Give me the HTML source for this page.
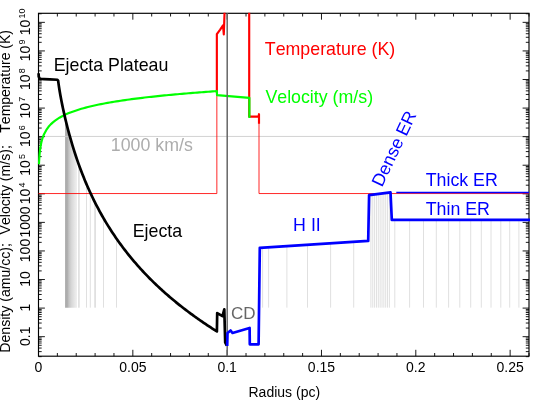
<!DOCTYPE html>
<html><head><meta charset="utf-8"><title>Radial profile</title>
<style>
html,body{margin:0;padding:0;background:#fff;}
body{width:534px;height:401px;overflow:hidden;}
svg{display:block;font-family:"Liberation Sans",sans-serif;font-kerning:none;}
</style></head><body>
<svg width="534" height="401" viewBox="0 0 534 401">
<rect x="0" y="0" width="534" height="401" fill="#fff"/>
<defs>
<linearGradient id="gz" x1="0" y1="0" x2="1" y2="0">
<stop offset="0" stop-color="#a8a8a8"/><stop offset="0.2" stop-color="#b0b0b0"/><stop offset="0.32" stop-color="#c4c4c4"/><stop offset="0.55" stop-color="#d8d8d8"/><stop offset="0.8" stop-color="#e6e6e6"/><stop offset="1" stop-color="#f0f0f0"/>
</linearGradient>
<clipPath id="fr"><rect x="36" y="12.7" width="495" height="345"/></clipPath>
</defs>
<path d="M65.1,307.65 L65.1,117.96 L65.6,120.03 L66.09,122.06 L66.59,124.06 L67.08,126.02 L67.58,127.95 L68.07,129.85 L68.57,131.72 L69.07,133.55 L69.56,135.35 L70.06,137.13 L70.55,138.88 L71.05,140.6 L71.55,142.3 L72.04,143.97 L72.54,145.61 L73.03,147.23 L73.53,148.83 L74.03,150.41 L74.52,151.96 L75.02,153.5 L75.51,155.01 L76.01,156.5 L76.5,157.98 L77,159.43 L77,307.65 Z" fill="url(#gz)"/>
<path d="M78.6,307.65V164 M79.2,307.65V165.66 M86.5,307.65V184.17 M90.3,307.65V192.71 M94.7,307.65V201.86 M95.5,307.65V203.44 M103.5,307.65V218.17 M116.5,307.65V238.62 M262.6,307.65V247.62 M268.6,307.65V247.24 M286.9,307.65V246.08 M307.5,307.65V244.76 M330.6,307.65V243.29 M353.7,307.65V241.82 M370.9,307.65V194.82 M372.75,307.65V194.58 M374.6,307.65V194.34 M376.45,307.65V194.11 M378.3,307.65V193.87 M380.15,307.65V193.63 M382,307.65V193.39 M383.85,307.65V193.15 M385.7,307.65V192.92 M387.55,307.65V192.68 M389.4,307.65V192.44 M394.8,307.65V220 M409.6,307.65V220 M423.5,307.65V220 M436.3,307.65V220 M448.6,307.65V220 M459.8,307.65V220 M470.7,307.65V220 M481.3,307.65V220 M491,307.65V220 M500.8,307.65V220 M509.7,307.65V220 M518.9,307.65V220" stroke="#e0e0e0" stroke-width="1" fill="none"/>
<path d="M38.5,136.45H529.0" stroke="#cdcdcd" stroke-width="0.9" fill="none"/>
<path d="M38.5,356.2v-6.4M38.5,13.3v6.4 M57.37,356.2v-3.2M57.37,13.3v3.2 M76.23,356.2v-3.2M76.23,13.3v3.2 M95.1,356.2v-3.2M95.1,13.3v3.2 M113.96,356.2v-3.2M113.96,13.3v3.2 M132.83,356.2v-6.4M132.83,13.3v6.4 M151.69,356.2v-3.2M151.69,13.3v3.2 M170.56,356.2v-3.2M170.56,13.3v3.2 M189.42,356.2v-3.2M189.42,13.3v3.2 M208.29,356.2v-3.2M208.29,13.3v3.2 M227.15,356.2v-6.4M227.15,13.3v6.4 M246.02,356.2v-3.2M246.02,13.3v3.2 M264.88,356.2v-3.2M264.88,13.3v3.2 M283.75,356.2v-3.2M283.75,13.3v3.2 M302.62,356.2v-3.2M302.62,13.3v3.2 M321.48,356.2v-6.4M321.48,13.3v6.4 M340.35,356.2v-3.2M340.35,13.3v3.2 M359.21,356.2v-3.2M359.21,13.3v3.2 M378.08,356.2v-3.2M378.08,13.3v3.2 M396.94,356.2v-3.2M396.94,13.3v3.2 M415.81,356.2v-6.4M415.81,13.3v6.4 M434.67,356.2v-3.2M434.67,13.3v3.2 M453.54,356.2v-3.2M453.54,13.3v3.2 M472.4,356.2v-3.2M472.4,13.3v3.2 M491.27,356.2v-3.2M491.27,13.3v3.2 M510.13,356.2v-6.4M510.13,13.3v6.4 M529,356.2v-3.2M529,13.3v3.2 M38.5,356.65h3.2M529.0,356.65h-3.2 M38.5,351.62h3.2M529.0,351.62h-3.2 M38.5,348.05h3.2M529.0,348.05h-3.2 M38.5,345.28h3.2M529.0,345.28h-3.2 M38.5,343.02h3.2M529.0,343.02h-3.2 M38.5,341.1h3.2M529.0,341.1h-3.2 M38.5,339.45h3.2M529.0,339.45h-3.2 M38.5,337.98h3.2M529.0,337.98h-3.2 M38.5,336.68h6.4M529.0,336.68h-6.4 M38.5,328.07h3.2M529.0,328.07h-3.2 M38.5,323.04h3.2M529.0,323.04h-3.2 M38.5,319.47h3.2M529.0,319.47h-3.2 M38.5,316.7h3.2M529.0,316.7h-3.2 M38.5,314.44h3.2M529.0,314.44h-3.2 M38.5,312.53h3.2M529.0,312.53h-3.2 M38.5,310.87h3.2M529.0,310.87h-3.2 M38.5,309.41h3.2M529.0,309.41h-3.2 M38.5,308.1h6.4M529.0,308.1h-6.4 M38.5,299.5h3.2M529.0,299.5h-3.2 M38.5,294.47h3.2M529.0,294.47h-3.2 M38.5,290.9h3.2M529.0,290.9h-3.2 M38.5,288.13h3.2M529.0,288.13h-3.2 M38.5,285.87h3.2M529.0,285.87h-3.2 M38.5,283.95h3.2M529.0,283.95h-3.2 M38.5,282.3h3.2M529.0,282.3h-3.2 M38.5,280.83h3.2M529.0,280.83h-3.2 M38.5,279.53h6.4M529.0,279.53h-6.4 M38.5,270.92h3.2M529.0,270.92h-3.2 M38.5,265.89h3.2M529.0,265.89h-3.2 M38.5,262.32h3.2M529.0,262.32h-3.2 M38.5,259.55h3.2M529.0,259.55h-3.2 M38.5,257.29h3.2M529.0,257.29h-3.2 M38.5,255.38h3.2M529.0,255.38h-3.2 M38.5,253.72h3.2M529.0,253.72h-3.2 M38.5,252.26h3.2M529.0,252.26h-3.2 M38.5,250.95h6.4M529.0,250.95h-6.4 M38.5,242.35h3.2M529.0,242.35h-3.2 M38.5,237.32h3.2M529.0,237.32h-3.2 M38.5,233.75h3.2M529.0,233.75h-3.2 M38.5,230.98h3.2M529.0,230.98h-3.2 M38.5,228.72h3.2M529.0,228.72h-3.2 M38.5,226.8h3.2M529.0,226.8h-3.2 M38.5,225.15h3.2M529.0,225.15h-3.2 M38.5,223.68h3.2M529.0,223.68h-3.2 M38.5,222.38h6.4M529.0,222.38h-6.4 M38.5,213.77h3.2M529.0,213.77h-3.2 M38.5,208.74h3.2M529.0,208.74h-3.2 M38.5,205.17h3.2M529.0,205.17h-3.2 M38.5,202.4h3.2M529.0,202.4h-3.2 M38.5,200.14h3.2M529.0,200.14h-3.2 M38.5,198.23h3.2M529.0,198.23h-3.2 M38.5,196.57h3.2M529.0,196.57h-3.2 M38.5,195.11h3.2M529.0,195.11h-3.2 M38.5,193.8h6.4M529.0,193.8h-6.4 M38.5,185.2h3.2M529.0,185.2h-3.2 M38.5,180.17h3.2M529.0,180.17h-3.2 M38.5,176.6h3.2M529.0,176.6h-3.2 M38.5,173.83h3.2M529.0,173.83h-3.2 M38.5,171.57h3.2M529.0,171.57h-3.2 M38.5,169.65h3.2M529.0,169.65h-3.2 M38.5,168h3.2M529.0,168h-3.2 M38.5,166.53h3.2M529.0,166.53h-3.2 M38.5,165.23h6.4M529.0,165.23h-6.4 M38.5,156.62h3.2M529.0,156.62h-3.2 M38.5,151.59h3.2M529.0,151.59h-3.2 M38.5,148.02h3.2M529.0,148.02h-3.2 M38.5,145.25h3.2M529.0,145.25h-3.2 M38.5,142.99h3.2M529.0,142.99h-3.2 M38.5,141.08h3.2M529.0,141.08h-3.2 M38.5,139.42h3.2M529.0,139.42h-3.2 M38.5,137.96h3.2M529.0,137.96h-3.2 M38.5,136.65h6.4M529.0,136.65h-6.4 M38.5,128.05h3.2M529.0,128.05h-3.2 M38.5,123.02h3.2M529.0,123.02h-3.2 M38.5,119.45h3.2M529.0,119.45h-3.2 M38.5,116.68h3.2M529.0,116.68h-3.2 M38.5,114.42h3.2M529.0,114.42h-3.2 M38.5,112.5h3.2M529.0,112.5h-3.2 M38.5,110.85h3.2M529.0,110.85h-3.2 M38.5,109.38h3.2M529.0,109.38h-3.2 M38.5,108.08h6.4M529.0,108.08h-6.4 M38.5,99.47h3.2M529.0,99.47h-3.2 M38.5,94.44h3.2M529.0,94.44h-3.2 M38.5,90.87h3.2M529.0,90.87h-3.2 M38.5,88.1h3.2M529.0,88.1h-3.2 M38.5,85.84h3.2M529.0,85.84h-3.2 M38.5,83.93h3.2M529.0,83.93h-3.2 M38.5,82.27h3.2M529.0,82.27h-3.2 M38.5,80.81h3.2M529.0,80.81h-3.2 M38.5,79.5h6.4M529.0,79.5h-6.4 M38.5,70.9h3.2M529.0,70.9h-3.2 M38.5,65.87h3.2M529.0,65.87h-3.2 M38.5,62.3h3.2M529.0,62.3h-3.2 M38.5,59.53h3.2M529.0,59.53h-3.2 M38.5,57.27h3.2M529.0,57.27h-3.2 M38.5,55.35h3.2M529.0,55.35h-3.2 M38.5,53.7h3.2M529.0,53.7h-3.2 M38.5,52.23h3.2M529.0,52.23h-3.2 M38.5,50.93h6.4M529.0,50.93h-6.4 M38.5,42.32h3.2M529.0,42.32h-3.2 M38.5,37.29h3.2M529.0,37.29h-3.2 M38.5,33.72h3.2M529.0,33.72h-3.2 M38.5,30.95h3.2M529.0,30.95h-3.2 M38.5,28.69h3.2M529.0,28.69h-3.2 M38.5,26.78h3.2M529.0,26.78h-3.2 M38.5,25.12h3.2M529.0,25.12h-3.2 M38.5,23.66h3.2M529.0,23.66h-3.2 M38.5,22.35h6.4M529.0,22.35h-6.4 M38.5,13.75h3.2M529.0,13.75h-3.2" stroke="#000" stroke-width="0.9" fill="none"/>
<rect x="38.5" y="13.3" width="490.5" height="342.9" fill="none" stroke="#000" stroke-width="1.15"/>
<g clip-path="url(#fr)" fill="none" stroke-linejoin="round">
<path d="M38.5,193.55H216.85V93" stroke="#f00" stroke-width="0.85"/>
<path d="M259,123V193.55H529.0" stroke="#f00" stroke-width="0.85"/>
<path d="M216.85,93 L216.85,34.2 L220,29.8 L223,25.3 L223.8,34.4 L224.7,8" stroke="#f00" stroke-width="2.15"/>
<path d="M249.2,8 L249.2,116.6 L258.6,116.6 L259,114.2 L259,123.7" stroke="#f00" stroke-width="2.15"/>
<path d="M38.99,164.29 L39.12,161.32 L39.26,158.93 L39.39,156.92 L39.52,155.2 L39.65,153.68 L39.79,152.33 L39.92,151.11 L40.05,150 L40.18,148.99 L40.32,148.05 L40.45,147.17 L40.58,146.35 L40.71,145.59 L40.85,144.87 L40.98,144.18 L41.11,143.54 L41.24,142.92 L41.38,142.34 L41.51,141.78 L41.64,141.24 L41.77,140.73 L41.91,140.24 L42.04,139.77 L42.17,139.31 L42.3,138.87 L42.44,138.44 L42.57,138.03 L42.7,137.64 L42.83,137.25 L42.97,136.88 L43.1,136.51 L43.23,136.16 L43.36,135.82 L43.5,135.48 L43.63,135.16 L43.76,134.84 L43.89,134.53 L44.03,134.23 L44.16,133.94 L46.35,129.89 L48.53,126.84 L50.72,124.39 L52.9,122.35 L55.09,120.59 L57.28,119.06 L59.46,117.69 L61.65,116.46 L63.83,115.34 L66.02,114.31 L68.21,113.36 L70.39,112.48 L72.58,111.66 L74.76,110.89 L76.95,110.16 L79.14,109.47 L81.32,108.82 L83.51,108.21 L85.69,107.62 L87.88,107.06 L90.07,106.52 L92.25,106 L94.44,105.51 L96.62,105.03 L98.81,104.57 L101,104.13 L103.18,103.71 L105.37,103.29 L107.55,102.89 L109.74,102.51 L111.93,102.13 L114.11,101.77 L116.3,101.42 L118.48,101.07 L120.67,100.74 L122.86,100.41 L125.04,100.09 L127.23,99.78 L129.41,99.48 L131.6,99.19 L133.79,98.9 L135.97,98.62 L138.16,98.34 L140.34,98.07 L142.53,97.81 L144.72,97.55 L146.9,97.3 L149.09,97.05 L151.27,96.81 L153.46,96.57 L155.65,96.34 L157.83,96.11 L160.02,95.88 L162.2,95.66 L164.39,95.44 L166.58,95.23 L168.76,95.02 L170.95,94.81 L173.13,94.61 L175.32,94.41 L177.51,94.21 L179.69,94.02 L181.88,93.83 L184.06,93.64 L186.25,93.46 L188.44,93.27 L190.62,93.09 L192.81,92.92 L194.99,92.74 L197.18,92.57 L199.37,92.4 L201.55,92.23 L203.74,92.07 L205.92,91.9 L208.11,91.74 L210.3,91.58 L212.48,91.43 L214.67,91.27 L216.85,91.12 L217,95.1 L249.4,97.9 L249.4,118" stroke="#0f0" stroke-width="2.15"/>
<path d="M38.6,73.3 L38.75,76.6 L39.5,78.4 L41.2,79 L44,79.15 L50,79.35 L57.4,79.75 L58.16,80.81 L58.66,84.58 L59.21,88.22 L59.78,91.75 L60.38,95.18 L60.99,98.5 L61.61,101.73 L62.24,104.86 L62.88,107.91 L63.52,110.88 L64.16,113.78 L64.81,116.6 L65.45,119.35 L66.1,122.03 L66.75,124.66 L67.4,127.22 L68.05,129.73 L68.7,132.18 L69.35,134.57 L70.01,136.92 L71.24,141.23 L72.47,145.39 L73.71,149.39 L74.94,153.26 L76.17,156.99 L77.41,160.61 L78.64,164.11 L79.88,167.51 L81.11,170.81 L82.34,174.01 L83.58,177.12 L84.81,180.15 L86.05,183.11 L87.28,185.98 L88.52,188.78 L89.75,191.52 L90.99,194.19 L92.22,196.79 L93.45,199.34 L94.69,201.83 L95.92,204.27 L97.16,206.66 L98.39,208.99 L99.63,211.28 L100.86,213.52 L102.1,215.72 L103.33,217.88 L104.56,219.99 L105.8,222.07 L107.03,224.11 L108.27,226.11 L109.5,228.08 L110.74,230.01 L111.97,231.91 L113.21,233.78 L114.44,235.62 L115.67,237.43 L116.91,239.21 L118.14,240.96 L119.38,242.69 L120.61,244.39 L121.85,246.06 L123.08,247.71 L124.32,249.33 L125.55,250.93 L126.78,252.51 L128.02,254.07 L129.25,255.61 L130.49,257.12 L131.72,258.62 L132.96,260.09 L134.19,261.55 L135.43,262.99 L136.66,264.41 L137.89,265.81 L139.13,267.19 L140.36,268.56 L141.6,269.91 L142.83,271.25 L144.07,272.57 L145.3,273.87 L146.54,275.16 L147.77,276.43 L149.01,277.69 L150.24,278.94 L151.47,280.17 L152.71,281.39 L153.94,282.6 L155.18,283.79 L156.41,284.97 L157.65,286.14 L158.88,287.29 L160.12,288.44 L161.35,289.57 L162.58,290.69 L163.82,291.8 L165.05,292.9 L166.29,293.99 L167.52,295.07 L168.76,296.14 L169.99,297.2 L171.23,298.24 L172.46,299.28 L173.69,300.31 L174.93,301.33 L176.16,302.34 L177.4,303.34 L178.63,304.33 L179.87,305.32 L181.1,306.29 L182.34,307.26 L183.57,308.22 L184.8,309.17 L186.04,310.11 L187.27,311.05 L188.51,311.97 L189.74,312.89 L190.98,313.8 L192.21,314.71 L193.45,315.61 L194.68,316.5 L195.91,317.38 L197.15,318.25 L198.38,319.12 L199.62,319.99 L200.85,320.84 L202.09,321.69 L203.32,322.54 L204.56,323.37 L205.79,324.2 L207.02,325.03 L208.26,325.85 L209.49,326.66 L210.73,327.47 L211.96,328.27 L213.2,329.06 L214.43,329.85 L215.67,330.64 L216.9,331.42 L217.2,313.1 L222.5,316.2 L224.3,309.4 L225.2,342.4 L226.8,345.6" stroke="#000" stroke-width="2.7"/>
<path d="M227.2,13.3V356.2" stroke="#666" stroke-width="1.5"/>
<path d="M227.2,346 L227.5,333 L230.6,330.5 L232.5,333 L249.6,328 L249.8,344.3 L258.6,344.3 L259.8,247.8 L368.2,240.9 L369.1,195.05 L390.5,192.3 L391.8,219.9 L530,219.9" stroke="#00f" stroke-width="2.7"/>
<path d="M396.3,192.5H529.0" stroke="#00f" stroke-width="1.5"/>
</g>
<text x="53.7" y="70.7" font-size="17.8" fill="#000" >Ejecta Plateau</text>
<text x="132.7" y="237.3" font-size="17.8" fill="#000" >Ejecta</text>
<text x="110.8" y="151.2" font-size="17.8" fill="#adadad" >1000 km/s</text>
<text x="264.8" y="55.2" font-size="17.8" fill="#f00" >Temperature (K)</text>
<text x="265.4" y="103.2" font-size="17.8" fill="#0f0" >Velocity (m/s)</text>
<text x="293.1" y="230.8" font-size="17.8" fill="#00f" >H II</text>
<text x="425.7" y="186.3" font-size="17.8" fill="#00f" >Thick ER</text>
<text x="425.7" y="214.6" font-size="17.8" fill="#00f" >Thin ER</text>
<text x="230.9" y="319.4" font-size="17" fill="#666" >CD</text>
<text font-size="17.8" fill="#00f" transform="translate(381.9,187.8) rotate(-64.5)">Dense ER</text>
<text x="38.5" y="371.6" font-size="14" text-anchor="middle" fill="#000">0</text>
<text x="132.83" y="371.6" font-size="14" text-anchor="middle" fill="#000">0.05</text>
<text x="227.15" y="371.6" font-size="14" text-anchor="middle" fill="#000">0.1</text>
<text x="321.48" y="371.6" font-size="14" text-anchor="middle" fill="#000">0.15</text>
<text x="415.81" y="371.6" font-size="14" text-anchor="middle" fill="#000">0.2</text>
<text x="510.13" y="371.6" font-size="14" text-anchor="middle" fill="#000">0.25</text>
<text x="284.3" y="397.4" font-size="14" text-anchor="middle" fill="#000">Radius (pc)</text>
<text transform="translate(30,336.23) rotate(-90)" font-size="14" text-anchor="middle" fill="#000">0.1</text>
<text transform="translate(30,307.65) rotate(-90)" font-size="14" text-anchor="middle" fill="#000">1</text>
<text transform="translate(30,279.08) rotate(-90)" font-size="14" text-anchor="middle" fill="#000">10</text>
<text transform="translate(30,250.5) rotate(-90)" font-size="14" text-anchor="middle" fill="#000">100</text>
<text transform="translate(30,221.93) rotate(-90)" font-size="14" text-anchor="middle" fill="#000">1000</text>
<text transform="translate(30,193.35) rotate(-90)" font-size="14" text-anchor="middle" fill="#000">10<tspan font-size="9" dx="1.2" dy="-4.6">4</tspan></text>
<text transform="translate(30,164.78) rotate(-90)" font-size="14" text-anchor="middle" fill="#000">10<tspan font-size="9" dx="1.2" dy="-4.6">5</tspan></text>
<text transform="translate(30,136.2) rotate(-90)" font-size="14" text-anchor="middle" fill="#000">10<tspan font-size="9" dx="1.2" dy="-4.6">6</tspan></text>
<text transform="translate(30,107.63) rotate(-90)" font-size="14" text-anchor="middle" fill="#000">10<tspan font-size="9" dx="1.2" dy="-4.6">7</tspan></text>
<text transform="translate(30,79.05) rotate(-90)" font-size="14" text-anchor="middle" fill="#000">10<tspan font-size="9" dx="1.2" dy="-4.6">8</tspan></text>
<text transform="translate(30,50.48) rotate(-90)" font-size="14" text-anchor="middle" fill="#000">10<tspan font-size="9" dx="1.2" dy="-4.6">9</tspan></text>
<text transform="translate(30,21.9) rotate(-90)" font-size="14" text-anchor="middle" fill="#000">10<tspan font-size="9" dx="1.2" dy="-4.6">10</tspan></text>
<text transform="translate(9.7,352.7) rotate(-90)" font-size="14.1" fill="#000">Density (amu/cc);</text>
<text transform="translate(9.7,234.4) rotate(-90)" font-size="14.1" fill="#000">Velocity (m/s);</text>
<text transform="translate(9.7,132.7) rotate(-90)" font-size="14" fill="#000">Temperature (K)</text>
</svg></body></html>
